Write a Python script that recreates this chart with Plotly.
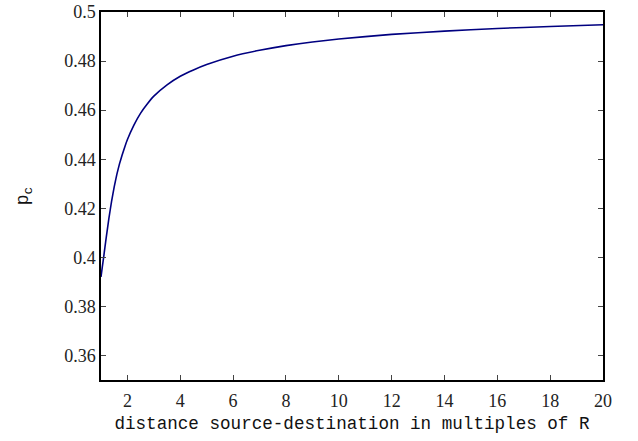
import plotly.graph_objects as go

distance = [1.0, 1.05, 1.1, 1.15, 1.2, 1.3, 1.4, 1.5, 1.6, 1.7, 1.8, 1.9, 2.0, 2.25, 2.5, 2.75, 3.0, 3.5,
            4.0, 4.5, 5.0, 6.0, 7.0, 8.0, 9.0, 10.0, 12.0, 14.0, 16.0, 18.0, 20.0]
p_c = [0.3920, 0.3961, 0.4000, 0.4042, 0.4082, 0.4160, 0.4228, 0.4287, 0.4338, 0.4381, 0.4417, 0.4450,
       0.4480, 0.4540, 0.4588, 0.4625, 0.4657, 0.4703, 0.4738, 0.4764, 0.4786, 0.4820, 0.4844,
       0.4863, 0.4878, 0.4890, 0.4909, 0.4922, 0.4933, 0.4941, 0.4948]

x_ticks = [2, 4, 6, 8, 10, 12, 14, 16, 18, 20]
y_ticks = [0.36, 0.38, 0.40, 0.42, 0.44, 0.46, 0.48, 0.50]
y_tick_labels = ["0.36", "0.38", "0.4", "0.42", "0.44", "0.46", "0.48", "0.5"]

fig = go.Figure()
fig.add_trace(go.Scatter(x=distance, y=p_c, mode="lines",
                         line=dict(color="#000080", width=1.6, shape="spline", smoothing=0.3),
                         showlegend=False, hoverinfo="skip"))

serif = "Liberation Serif"
mono = "Liberation Mono"

fig.update_layout(
    width=638, height=441,
    margin=dict(l=101, r=35, t=12, b=61),
    paper_bgcolor="white", plot_bgcolor="white",
    font=dict(family=serif, size=17, color="#222222"),
    xaxis=dict(range=[1, 20], tickvals=x_ticks, ticks="inside", ticklen=5, tickwidth=1,
               tickcolor="#444444", showline=True, linecolor="black", linewidth=1.5,
               mirror="allticks", showgrid=False, zeroline=False, automargin=False,
               ticklabelstandoff=4,
               tickfont=dict(family=serif, size=18, color="#222222"),
               title=dict(text="distance source-destination in multiples of R",
                          font=dict(family=mono, size=17.6, color="#111111"), standoff=6)),
    yaxis=dict(range=[0.35, 0.5], tickvals=y_ticks, ticktext=y_tick_labels, ticks="inside",
               ticklen=5, tickwidth=1, tickcolor="#444444", showline=True, linecolor="black",
               linewidth=1.5, mirror="allticks", showgrid=False, zeroline=False, automargin=False,
               tickfont=dict(family=serif, size=18, color="#222222"),
               title=dict(text="p<sub>c</sub>", font=dict(family=mono, size=18, color="#111111"),
                          standoff=31)),
)

fig.write_html("out.html", config={"displayModeBar": False},
               post_script="document.body.style.margin='0';document.body.style.overflow='hidden';")
